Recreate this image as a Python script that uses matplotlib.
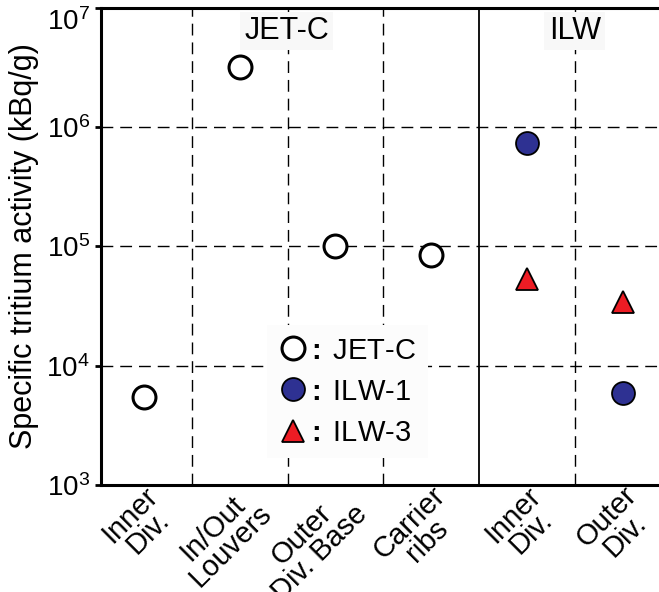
import matplotlib
matplotlib.use("Agg")
import matplotlib.pyplot as plt
import matplotlib.transforms as mtransforms

plt.rcParams["font.family"] = ["Liberation Sans", "DejaVu Sans"]
plt.rcParams["mathtext.fontset"] = "custom"
plt.rcParams["mathtext.rm"] = "Liberation Sans"
plt.rcParams["mathtext.bf"] = "Liberation Sans:bold"

# ── data ──────────────────────────────────────────────────────────────────────
categories = ["Inner\nDiv.", "In/Out\nLouvers", "Outer\nDiv. Base",
              "Carrier\nribs", "Inner\nDiv.", "Outer\nDiv."]
jetc_x = [0, 1, 2, 3]
jetc_y = [5.5e3, 3.2e6, 1.0e5, 8.5e4]
ilw1_x = [4, 5]
ilw1_y = [7.4e5, 5.9e3]
ilw3_x = [4, 5]
ilw3_y = [5.3e4, 3.4e4]

blue = "#2e3192"
red = "#ed1c24"
dash = (0, (8.5, 5))
colon = r"$\mathbf{:}$" + "\u2009"

# ── figure ────────────────────────────────────────────────────────────────────
fig = plt.figure(figsize=(6.59, 5.92), dpi=100)
ax = fig.add_axes([0.153, 0.181, 0.847, 0.8055])

ax.set_yscale("log")
ax.set_ylim(1e3, 1e7)
ax.set_xlim(-0.45, 5.38)

# grid
for yv in [1e4, 1e5, 1e6]:
    ax.axhline(yv, color="black", lw=1.0, ls=dash, zorder=1)
for xv in [0.5, 1.5, 2.5, 4.5]:
    ax.axvline(xv, color="black", lw=1.0, ls=dash, zorder=1)
ax.axvline(3.5, color="black", lw=1.3, zorder=1)

# points
ax.plot(jetc_x, jetc_y, "o", ms=16.5, mfc="white", mec="black", mew=2.2,
        ls="none", zorder=3, label=colon + "JET-C")
ax.plot(ilw1_x, ilw1_y, "o", ms=16.5, mfc=blue, mec="black", mew=1.3,
        ls="none", zorder=3, label=colon + "ILW-1")
ax.plot(ilw3_x, ilw3_y, "^", ms=16.5, mfc=red, mec="black", mew=1.3,
        ls="none", zorder=3, label=colon + "ILW-3")

# group labels
box = dict(facecolor="#f8f8f8", edgecolor="none", pad=3)
ax.text(1.49, 6.4e6, "JET-C", fontsize=22, ha="center", va="center",
        bbox=box, zorder=2)
ax.text(4.5, 6.4e6, "ILW", fontsize=22, ha="center", va="center",
        bbox=box, zorder=2)

leg = ax.legend(loc="upper left", bbox_to_anchor=(0.271, 0.366), fontsize=21,
                frameon=True, facecolor="#fcfcfc", edgecolor="none",
                framealpha=1, handletextpad=-0.05, handlelength=1.0,
                labelspacing=0.45, borderpad=0.4, fancybox=False)
leg.set_zorder(4)

# axes styling
ax.tick_params(axis="x", length=0, pad=4)
ax.tick_params(axis="y", which="major", length=4, width=2, labelsize=20,
               direction="out", pad=4)
ax.tick_params(axis="y", which="minor", length=0)
ax.set_xticks(range(len(categories)))
ax.set_xticklabels(categories, rotation=45, ha="right", va="top",
                   rotation_mode="anchor", multialignment="center",
                   fontsize=21, linespacing=0.88)
ax.set_ylabel("Specific tritium activity (kBq/g)", fontsize=22, labelpad=5)

fig.canvas.draw()
shift = mtransforms.ScaledTranslation(0, 9 / 100, fig.dpi_scale_trans)
for lab in ax.get_xticklabels():
    lab.set_transform(lab.get_transform() + shift)
for t in ax.yaxis.get_major_ticks():
    if abs(t.get_loc() - 1e7) < 1:
        t.label1.set_verticalalignment("top")

for s in ["left", "bottom", "top"]:
    ax.spines[s].set_linewidth(2.2)
ax.spines["right"].set_visible(False)

fig.savefig("out.png", dpi=100)
